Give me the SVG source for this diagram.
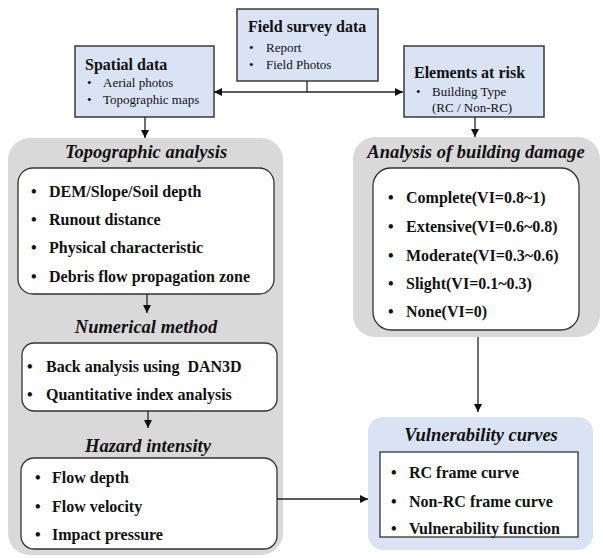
<svg xmlns="http://www.w3.org/2000/svg" width="603" height="558" viewBox="0 0 603 558">
<defs>
<marker id="ah" viewBox="0 0 10 10" refX="10" refY="5" markerWidth="8" markerHeight="8" markerUnits="userSpaceOnUse" orient="auto">
<path d="M0,0 L10,5 L0,10 z" fill="#111"/>
</marker>
<style>
text{font-family:"Liberation Serif","Times New Roman",serif;fill:#111}
.src{fill:#dae3f3;stroke:#3a3a3a;stroke-width:1.5}
.panel{fill:#d9d9d9}
.vpanel{fill:#dae3f3}
.inner{fill:#fff;stroke:#333;stroke-width:1.3}
.h{font-size:16px;font-weight:bold}
.s{font-size:13px}
.t{font-size:18.5px;font-weight:bold;font-style:italic;text-anchor:middle}
.i{font-size:16px;font-weight:bold}
.b{font-size:16px;font-weight:bold}
.c{fill:none;stroke:#222;stroke-width:1.3}
</style>
</defs>
<rect width="603" height="558" fill="#fff"/>

<g id="field-survey">
<rect class="src" x="237" y="9" width="141" height="72"/>
<text class="h" x="248" y="32">Field survey data</text>
<text class="s" x="249" y="52">•</text><text class="s" x="266" y="52">Report</text>
<text class="s" x="249" y="69">•</text><text class="s" x="266" y="69">Field Photos</text>
</g>

<g id="spatial-data">
<rect class="src" x="75" y="46" width="139" height="71"/>
<text class="h" x="85" y="70">Spatial data</text>
<text class="s" x="87" y="87">•</text><text class="s" x="103" y="87">Aerial photos</text>
<text class="s" x="87" y="104">•</text><text class="s" x="103" y="104">Topographic maps</text>
</g>

<g id="elements-at-risk">
<rect class="src" x="404" y="46" width="140" height="71"/>
<text class="h" x="414" y="78">Elements at risk</text>
<text class="s" x="416" y="96">•</text><text class="s" x="432" y="96">Building Type</text>
<text class="s" x="432" y="112">(RC / Non-RC)</text>
</g>

<g id="topographic-panel">
<rect class="panel" x="8" y="138" width="275" height="417" rx="22"/>
<text class="t" x="146" y="158">Topographic analysis</text>
<rect class="inner" x="18" y="168" width="256" height="126" rx="15"/>
<text class="b" x="31" y="197">•</text><text class="i" x="49" y="197">DEM/Slope/Soil depth</text>
<text class="b" x="31" y="225">•</text><text class="i" x="49" y="225">Runout distance</text>
<text class="b" x="31" y="253">•</text><text class="i" x="49" y="253">Physical characteristic</text>
<text class="b" x="31" y="282">•</text><text class="i" x="49" y="282">Debris flow propagation zone</text>
</g>

<g id="numerical-method">
<text class="t" x="146" y="333">Numerical method</text>
<rect class="inner" x="22" y="343" width="255" height="68" rx="12"/>
<text class="b" x="27" y="372">•</text><text class="i" x="46" y="372" xml:space="preserve">Back analysis using  DAN3D</text>
<text class="b" x="27" y="400">•</text><text class="i" x="46" y="400">Quantitative index analysis</text>
</g>

<g id="hazard-intensity">
<text class="t" x="148" y="452">Hazard intensity</text>
<rect class="inner" x="21" y="458" width="256" height="91" rx="13"/>
<text class="b" x="35" y="483">•</text><text class="i" x="52" y="483">Flow depth</text>
<text class="b" x="35" y="512">•</text><text class="i" x="52" y="512">Flow velocity</text>
<text class="b" x="35" y="540">•</text><text class="i" x="52" y="540">Impact pressure</text>
</g>

<g id="building-damage">
<rect class="panel" x="353" y="137" width="247" height="200" rx="22"/>
<text class="t" x="476" y="158">Analysis of building damage</text>
<rect class="inner" x="373" y="168" width="206" height="162" rx="18"/>
<text class="b" x="388" y="203">•</text><text class="i" x="406" y="203">Complete(VI=0.8~1)</text>
<text class="b" x="388" y="232">•</text><text class="i" x="406" y="232">Extensive(VI=0.6~0.8)</text>
<text class="b" x="388" y="261">•</text><text class="i" x="406" y="261">Moderate(VI=0.3~0.6)</text>
<text class="b" x="388" y="289">•</text><text class="i" x="406" y="289">Slight(VI=0.1~0.3)</text>
<text class="b" x="388" y="317">•</text><text class="i" x="406" y="317">None(VI=0)</text>
</g>

<g id="vulnerability-curves">
<rect class="vpanel" x="368" y="417" width="225" height="133" rx="15"/>
<text class="t" x="481" y="441">Vulnerability curves</text>
<rect class="inner" x="380" y="452" width="198" height="85"/>
<text class="b" x="391" y="478">•</text><text class="i" x="409" y="478">RC frame curve</text>
<text class="b" x="391" y="507">•</text><text class="i" x="409" y="507">Non-RC frame curve</text>
<text class="b" x="391" y="534">•</text><text class="i" x="409" y="534">Vulnerability function</text>
</g>

<g id="connectors">
<path class="c" d="M307,81 V92"/>
<path class="c" d="M307,92 H214" marker-end="url(#ah)"/>
<path class="c" d="M307,92 H403" marker-end="url(#ah)"/>
<path class="c" d="M145,117 V138" marker-end="url(#ah)"/>
<path class="c" d="M475,117 V137" marker-end="url(#ah)"/>
<path class="c" d="M147,294 V313" marker-end="url(#ah)"/>
<path class="c" d="M148,411 V428" marker-end="url(#ah)"/>
<path class="c" d="M478,337 V412" marker-end="url(#ah)"/>
<path class="c" d="M277,499 H368" marker-end="url(#ah)"/>
</g>
</svg>
